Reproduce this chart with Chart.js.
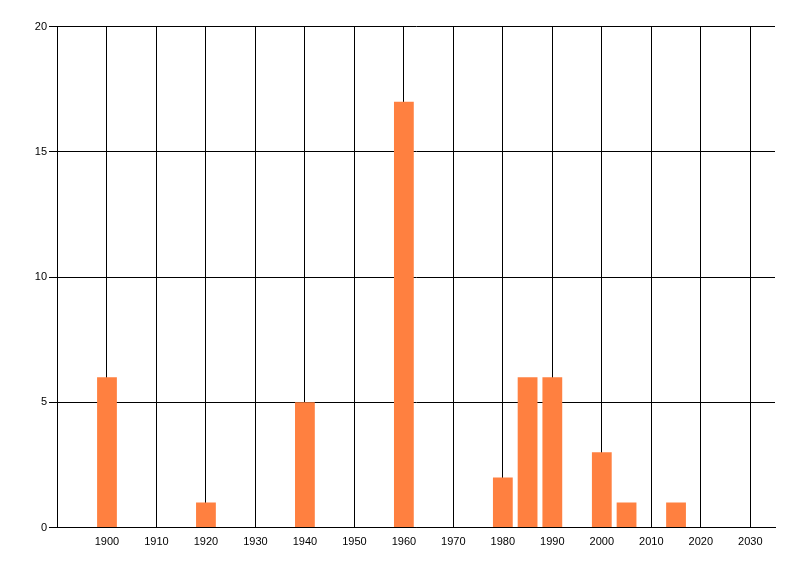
<!DOCTYPE html>
<html><head><meta charset="utf-8">
<script src="https://cdn.jsdelivr.net/npm/chart.js@4/dist/chart.umd.min.js"></script>
<style>html,body{margin:0;padding:0;background:#fff}#wrap{width:800px;height:576px}</style>
</head><body><div id="wrap"><canvas id="c" width="800" height="576"></canvas></div>
<script>
const years = [1900, 1920, 1940, 1960, 1980, 1985, 1990, 2000, 2005, 2015];
const counts = [6, 1, 5, 17, 2, 6, 6, 3, 1, 1];
const xTicks = [1900, 1910, 1920, 1930, 1940, 1950, 1960, 1970, 1980, 1990, 2000, 2010, 2020, 2030];
const yTicks = [0, 5, 10, 15, 20];

const points = years.map((y, i) => ({x: y, y: counts[i]}));
const font = {family: '"Liberation Sans", Arial, sans-serif', size: 11};

new Chart(document.getElementById('c'), {
  type: 'bar',
  data: {datasets: [{data: points, backgroundColor: '#FF8040', borderWidth: 0,
    categoryPercentage: 0.8, barPercentage: 1}]},
  options: {
    responsive: false, animation: false, devicePixelRatio: 1,
    layout: {padding: {left: 0, top: 26.5, right: 25, bottom: 0}},
    plugins: {legend: {display: false}, tooltip: {enabled: false}},
    scales: {
      x: {type: 'linear', min: 1889.9, max: 2035, offset: false,
        grid: {offset: false, color: '#000', lineWidth: 1, drawTicks: false},
        border: {display: true, color: '#000'},
        afterBuildTicks: s => { s.ticks = xTicks.map(v => ({value: v})); },
        afterFit: s => { s.height = 48.5; },
        ticks: {color: '#000', font: font, padding: 8, maxRotation: 0, autoSkip: false,
          callback: v => String(v)}
      },
      y: {min: 0, max: 20,
        grid: {color: '#000', lineWidth: 1, drawTicks: true, tickLength: 8, tickColor: '#000'},
        border: {display: true, color: '#000'},
        afterBuildTicks: s => { s.ticks = yTicks.map(v => ({value: v})); },
        afterFit: s => { s.width = 57; },
        ticks: {color: '#000', font: font, padding: 2, callback: v => String(v)}
      }
    }
  }
});
</script></body></html>
